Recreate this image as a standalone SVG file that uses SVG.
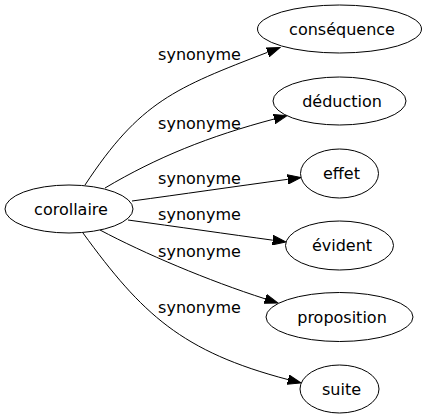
<svg xmlns="http://www.w3.org/2000/svg" width="426" height="419" viewBox="0 0 426 419">
<style>
.node ellipse{fill:#fff;stroke:#000;stroke-width:1}
text{font-family:"DejaVu Sans",Verdana,sans-serif;font-size:16px;fill:#000;text-anchor:middle}
.edges path{fill:none;stroke:#000;stroke-width:1;marker-end:url(#arr)}
</style>
<defs>
<marker id="arr" markerUnits="userSpaceOnUse" markerWidth="14" markerHeight="10" refX="0" refY="5" orient="auto" viewBox="0 0 14 10">
<path d="M0,0.3 L13.3,5 L0,9.7 Z" fill="#000" stroke="#000" stroke-width="1"/>
</marker>
</defs>
<rect width="426" height="419" fill="#fff"/>
<g class="edges" id="edges">
<path d="M85,185 C140,101.5 175,88 267.6,52.3"/>
<path d="M105,188 C156.6,157.4 208.5,136.4 274.2,119"/>
<path d="M132,201 C180,194.5 235,186.5 287.8,179.3"/>
<path d="M128,220 C175,226.5 230,234.3 272.8,240.2"/>
<path d="M100,230 C144.2,253.5 208.2,280.6 265.3,298.9"/>
<path d="M83,233 C142,314 181.7,351.7 288.1,379.6"/>
</g>
<g id="labels">
<text x="199.5" y="60">synonyme</text>
<text x="199.5" y="129">synonyme</text>
<text x="199.5" y="184">synonyme</text>
<text x="199.5" y="220">synonyme</text>
<text x="199.5" y="257">synonyme</text>
<text x="199.5" y="313">synonyme</text>
</g>
<g class="node" id="corollaire"><ellipse cx="69" cy="209" rx="64" ry="24"/><text x="71" y="214.5">corollaire</text></g>
<g class="node" id="consequence"><ellipse cx="339.5" cy="29" rx="82" ry="24"/><text x="342" y="34.5">conséquence</text></g>
<g class="node" id="deduction"><ellipse cx="339.5" cy="101" rx="66.5" ry="24"/><text x="342" y="106.5">déduction</text></g>
<g class="node" id="effet"><ellipse cx="339.5" cy="173.5" rx="39" ry="24.5"/><text x="341.5" y="179">effet</text></g>
<g class="node" id="evident"><ellipse cx="339.5" cy="245.5" rx="54" ry="24.5"/><text x="342" y="251">évident</text></g>
<g class="node" id="proposition"><ellipse cx="339.5" cy="317" rx="73.5" ry="24.5"/><text x="342" y="322.5">proposition</text></g>
<g class="node" id="suite"><ellipse cx="339.5" cy="389" rx="39.5" ry="24"/><text x="341.5" y="394.5">suite</text></g>
</svg>
